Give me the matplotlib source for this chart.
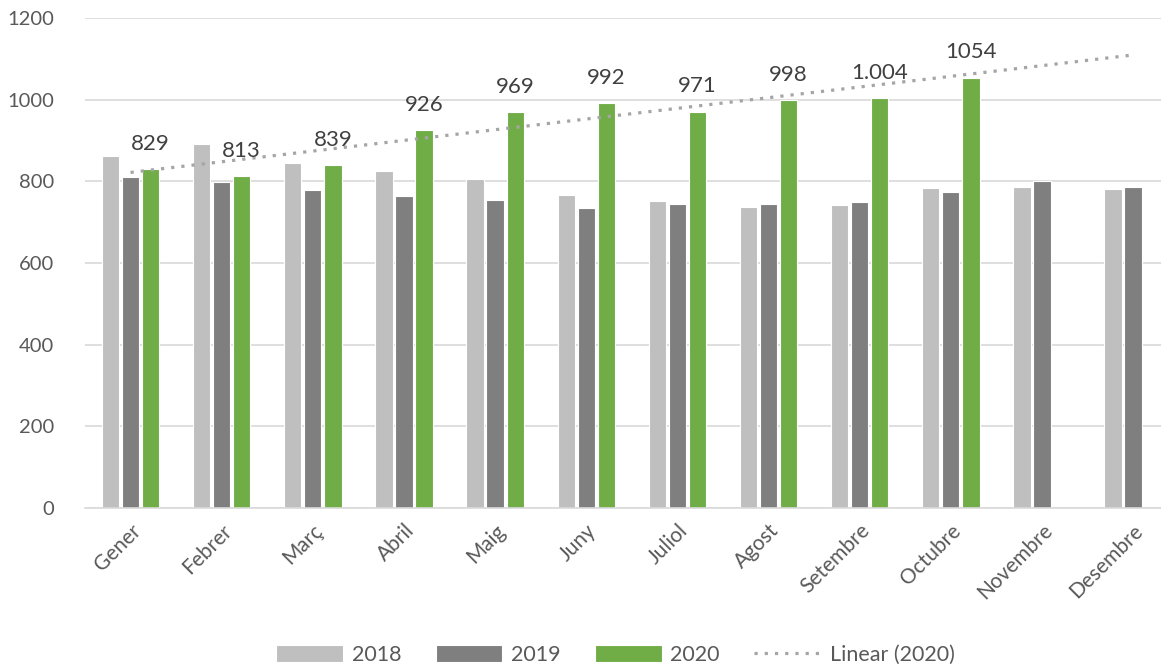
import matplotlib
matplotlib.use("Agg")
import matplotlib.pyplot as plt
import numpy as np

plt.rcParams['font.family'] = ['Lato', 'DejaVu Sans']

# Data
months = ["Gener", "Febrer", "Març", "Abril", "Maig", "Juny", "Juliol",
          "Agost", "Setembre", "Octubre", "Novembre", "Desembre"]
v2018 = [862, 891, 845, 825, 806, 767, 752, 737, 742, 784, 786, 781]
v2019 = [811, 798, 779, 764, 754, 735, 745, 745, 749, 774, 801, 786]
v2020 = [829, 813, 839, 926, 969, 992, 971, 998, 1004, 1054]
labels2020 = ["829", "813", "839", "926", "969", "992", "971", "998", "1.004", "1054"]
yticks = [0, 200, 400, 600, 800, 1000, 1200]

grey_txt = "#595959"

fig = plt.figure(figsize=(11.61, 6.67), dpi=100)
# plot area runs a bit past the right edge, as in the cropped original
ax = fig.add_axes([0.0732, 0.2384, 0.942, 0.7346])

x = np.arange(len(months))
x20 = np.arange(len(v2020))
w = 0.19
off = 0.22
b18 = ax.bar(x - off, v2018, w, color="#BFBFBF", edgecolor="white", linewidth=0.8, label="2018", zorder=2)
b19 = ax.bar(x, v2019, w, color="#7F7F7F", edgecolor="white", linewidth=0.8, label="2019", zorder=2)
b20 = ax.bar(x20 + off, v2020, w, color="#70AD47", edgecolor="white", linewidth=0.8, label="2020", zorder=2)

# linear trend of 2020, extended over all months
k, b = np.polyfit(x20, v2020, 1)
trend, = ax.plot(x, k * x + b, linestyle=(0, (1, 2.2)), color="#A5A5A5", linewidth=2.3,
                 label="Linear (2020)", zorder=3)

for xi, v, lab in zip(x20, v2020, labels2020):
    ax.annotate(lab, (xi + off, v), xytext=(0, 11), textcoords="offset points",
                ha="center", va="bottom", fontsize=16, color="#404040", zorder=4)

ax.set_xlim(-0.5, len(months) - 0.5)
ax.set_ylim(0, 1200)
ax.set_yticks(yticks)
ax.set_xticks(x)
ax.set_xticklabels(months, rotation=45, ha="right", rotation_mode="anchor")
ax.tick_params(axis="both", length=0, labelsize=14.5, colors=grey_txt)
ax.tick_params(axis="x", pad=9, labelsize=15)
ax.tick_params(axis="y", pad=22)
ax.grid(axis="y", color="#D9D9D9", linewidth=1.2, zorder=0)
for s in ["top", "right", "left"]:
    ax.spines[s].set_visible(False)
ax.spines["bottom"].set_color("#D9D9D9")
ax.spines["bottom"].set_linewidth(1.2)

ax.legend(handles=[b18, b19, b20, trend], loc="center", bbox_to_anchor=(0.485, -0.30),
          ncol=4, frameon=False, fontsize=15.5, labelcolor=grey_txt,
          handlelength=3.1, handleheight=0.8, handletextpad=0.4, columnspacing=1.6)

fig.savefig("out.png", dpi=100)
